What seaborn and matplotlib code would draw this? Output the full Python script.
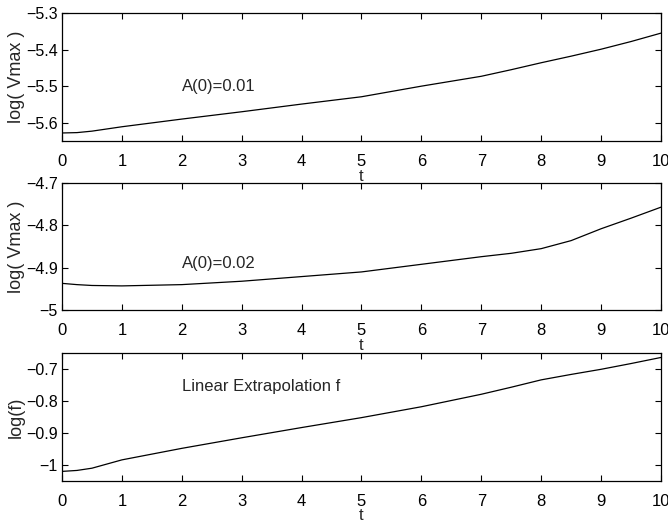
import numpy as np
import pandas as pd
import seaborn as sns
import matplotlib
matplotlib.use("Agg")
import matplotlib.pyplot as plt

# values
t = [0, 0.25, 0.5, 1, 2, 3, 4, 5, 6, 7, 7.5, 8, 8.5, 9, 9.5, 10]
vmax_001 = [-5.628, -5.627, -5.623, -5.611, -5.590, -5.570, -5.549, -5.529, -5.500,
            -5.473, -5.455, -5.436, -5.418, -5.399, -5.378, -5.355]
vmax_002 = [-4.937, -4.940, -4.942, -4.943, -4.940, -4.932, -4.921, -4.910, -4.892,
            -4.874, -4.866, -4.855, -4.836, -4.808, -4.783, -4.757]
log_f = [-1.020, -1.017, -1.010, -0.984, -0.948, -0.915, -0.883, -0.852, -0.818,
         -0.779, -0.757, -0.734, -0.717, -0.701, -0.683, -0.664]

panels = [
    (vmax_001, "log( Vmax )", (-5.65, -5.3), [-5.6, -5.5, -5.4, -5.3], "A(0)=0.01", -5.5),
    (vmax_002, "log( Vmax )", (-5.0, -4.7), [-5.0, -4.9, -4.8, -4.7], "A(0)=0.02", -4.89),
    (log_f, "log(f)", (-1.05, -0.65), [-1.0, -0.9, -0.8, -0.7], "Linear Extrapolation f", -0.755),
]
ytick_fmt = [["\u22125.6", "\u22125.5", "\u22125.4", "\u22125.3"],
             ["\u22125", "\u22124.9", "\u22124.8", "\u22124.7"],
             ["\u22121", "\u22120.9", "\u22120.8", "\u22120.7"]]

sns.set_style("ticks")
plt.rcParams["font.family"] = ["Liberation Sans", "DejaVu Sans"]
plt.rcParams["xtick.direction"] = "in"
plt.rcParams["ytick.direction"] = "in"

fig = plt.figure(figsize=(6.68, 5.2), dpi=100)
boxes = [(0.0928, 0.7288, 0.8967, 0.2462),
         (0.0928, 0.4038, 0.8967, 0.2442),
         (0.0928, 0.0750, 0.8967, 0.2462)]

for i, (vals, ylab, ylim, yt, note, note_y) in enumerate(panels):
    ax = fig.add_axes(boxes[i])
    df = pd.DataFrame({"t": t, "v": vals})
    sns.lineplot(data=df, x="t", y="v", ax=ax, color="black", linewidth=0.9)
    ax.set_xlim(0, 10)
    ax.set_ylim(*ylim)
    ax.set_xticks(range(0, 11))
    ax.set_yticks(yt)
    ax.set_yticklabels(ytick_fmt[i])
    ax.tick_params(axis="both", length=4, width=0.8,
                   top=True, right=True, colors="black")
    ax.tick_params(axis="x", pad=9, labelsize=12)
    ax.tick_params(axis="y", pad=3, labelsize=11.5)
    ax.set_xlabel("t", fontsize=12, labelpad=0)
    ax.set_ylabel(ylab, fontsize=13, labelpad=1)
    for s in ax.spines.values():
        s.set_visible(True)
        s.set_linewidth(0.9)
        s.set_color("black")
    ax.text(2.0, note_y, note, fontsize=12, va="center", ha="left")

fig.savefig("out.png", dpi=100)
